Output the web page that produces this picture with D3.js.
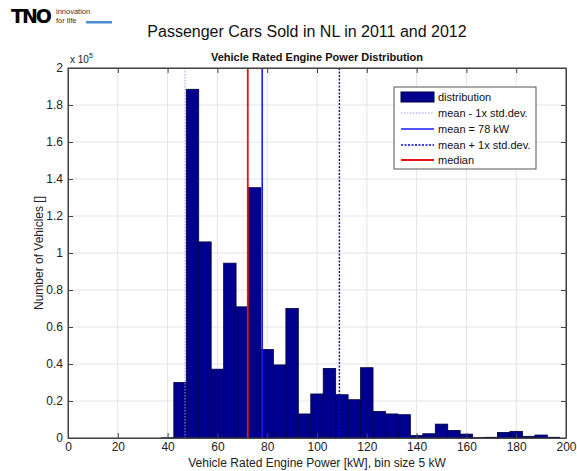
<!DOCTYPE html>
<html><head><meta charset="utf-8">
<script src="https://cdn.jsdelivr.net/npm/d3@7"></script>
<style>body{margin:0;background:#fff}svg{display:block;font-family:"Liberation Sans",Arial,sans-serif}</style>
</head><body><svg id="c" width="577" height="471"></svg>
<script>
// bin centres (kW), bin size 5 kW
const binCenters = [40,45,50,55,60,65,70,75,80,85,90,95,100,105,110,115,120,125,130,135,140,145,150,155,160,165,170,175,180,185,190,195];
// number of vehicles per bin
const counts = [100,30000,188500,106000,37200,94500,70900,135300,47800,39500,70000,13000,23800,37600,23400,20700,38000,14400,13000,12600,1300,2300,7500,4100,2100,200,400,3000,3600,900,1600,400];
const xTicks = [0,20,40,60,80,100,120,140,160,180,200];
const yTicks = [0,0.2,0.4,0.6,0.8,1,1.2,1.4,1.6,1.8,2];
const meanVal = 78, stdVal = 31, medianVal = 72.2;
const legendLabels = ["distribution","mean - 1x std.dev.","mean = 78 kW","mean + 1x std.dev.","median"];

const svg = d3.select("#c");
const L=68, R=566, T=68, B=438;
const x = d3.scaleLinear().domain([0,200]).range([L,R]);
const y = d3.scaleLinear().domain([0,200000]).range([B,T]);
const binW = 5;

// grid
const g = svg.append("g");
g.selectAll(".gx").data(xTicks).enter().append("line")
  .attr("x1",d=>x(d)).attr("x2",d=>x(d)).attr("y1",T).attr("y2",B)
  .attr("stroke","#e4e4e4").attr("stroke-width",1);
g.selectAll(".gy").data(yTicks).enter().append("line")
  .attr("x1",L).attr("x2",R).attr("y1",d=>y(d*1e5)).attr("y2",d=>y(d*1e5))
  .attr("stroke","#e4e4e4").attr("stroke-width",1);

// bars
svg.append("g").selectAll("rect").data(binCenters.map((c,i)=>({c,v:counts[i]}))).enter().append("rect")
  .attr("x",d=>x(d.c-binW/2)).attr("width",d=>x(d.c+binW/2)-x(d.c-binW/2))
  .attr("y",d=>y(d.v)).attr("height",d=>B-y(d.v))
  .attr("fill","#00008f").attr("stroke","#000040").attr("stroke-width",0.8);

// vertical lines
const vlines = [
  {v:meanVal-stdVal, c:"#9999ff", dash:"1.5,1.5", w:1},
  {v:meanVal, c:"#1a1aff", dash:null, w:1.6},
  {v:meanVal+stdVal, c:"#0000e6", dash:"2,1.5", w:1.4},
  {v:medianVal, c:"#ee1111", dash:null, w:1.8}
];
svg.append("g").selectAll("line").data(vlines).enter().append("line")
  .attr("x1",d=>x(d.v)).attr("x2",d=>x(d.v)).attr("y1",T).attr("y2",B)
  .attr("stroke",d=>d.c).attr("stroke-width",d=>d.w).attr("stroke-dasharray",d=>d.dash);

// axes box + ticks
const ax = d3.axisBottom(x).tickValues(xTicks).tickSize(-5).tickSizeOuter(0).tickPadding(4);
const axG = svg.append("g").attr("transform",`translate(0,${B})`).call(ax);
const axT = svg.append("g").attr("transform",`translate(0,${T})`).call(d3.axisTop(x).tickValues(xTicks).tickSize(-5).tickSizeOuter(0).tickFormat(""));
const ay = d3.axisLeft(y).tickValues(yTicks.map(d=>d*1e5)).tickFormat(d=>d3.format("~g")(d/1e5)).tickSize(-5).tickSizeOuter(0).tickPadding(5);
const ayG = svg.append("g").attr("transform",`translate(${L},0)`).call(ay);
const ayR = svg.append("g").attr("transform",`translate(${R},0)`).call(d3.axisRight(y).tickValues(yTicks.map(d=>d*1e5)).tickSize(-5).tickSizeOuter(0).tickFormat(""));
[axG,axT,ayG,ayR].forEach(a=>{
  a.select(".domain").attr("stroke","#444");
  a.selectAll(".tick line").attr("stroke","#444");
  a.selectAll("text").attr("font-family","Liberation Sans, Arial, sans-serif").attr("font-size",12).attr("fill","#222");
});
svg.append("rect").attr("x",L).attr("y",T).attr("width",R-L).attr("height",B-T).attr("fill","none").attr("stroke","#444");

// exponent
const ex = svg.append("text").attr("x",70).attr("y",63).attr("font-size",10).attr("fill","#222");
ex.append("tspan").text("x 10");
ex.append("tspan").attr("dy",-5).attr("font-size",7).text("5");

// labels
svg.append("text").attr("x",307).attr("y",37).attr("text-anchor","middle").attr("font-size",16).attr("fill","#111")
  .text("Passenger Cars Sold in NL in 2011 and 2012");
svg.append("text").attr("x",317).attr("y",61).attr("text-anchor","middle").attr("font-size",11).attr("font-weight","bold").attr("fill","#111")
  .text("Vehicle Rated Engine Power Distribution");
svg.append("text").attr("x",317).attr("y",467).attr("text-anchor","middle").attr("font-size",12).attr("fill","#222")
  .text("Vehicle Rated Engine Power [kW], bin size 5 kW");
svg.append("text").attr("transform","translate(43,253) rotate(-90)").attr("text-anchor","middle").attr("font-size",12).attr("fill","#222")
  .text("Number of Vehicles []");

// legend
const lg = svg.append("g");
lg.append("rect").attr("x",394).attr("y",87).attr("width",142).attr("height",82).attr("fill","#fff").attr("stroke","#555");
const rowsY = [97,113,129,145,160];
legendLabels.forEach((t,i)=>{
  const yy = rowsY[i];
  if(i===0){
    lg.append("rect").attr("x",401).attr("y",yy-5).attr("width",33).attr("height",10).attr("fill","#00008f").attr("stroke","#000040");
  } else {
    const s = vlines[i-1];
    lg.append("line").attr("x1",401).attr("x2",434).attr("y1",yy).attr("y2",yy)
      .attr("stroke",s.c).attr("stroke-width",s.w).attr("stroke-dasharray",s.dash);
  }
  lg.append("text").attr("x",438).attr("y",yy+4).attr("font-size",11).attr("fill","#111").text(t);
});

// logo
svg.append("text").attr("x",11).attr("y",23).attr("font-size",19).attr("font-weight","900").attr("font-family","DejaVu Sans, sans-serif")
  .attr("letter-spacing",-2).attr("fill","#000").text("TNO");
svg.append("text").attr("x",56).attr("y",14).attr("font-size",7.5).attr("fill","#333").text("innovation");
svg.append("text").attr("x",56).attr("y",23).attr("font-size",7.5).attr("fill","#333").text("for life");
svg.append("rect").attr("x",86).attr("y",21).attr("width",26).attr("height",2.5).attr("fill","#4a8fd0");
</script></body></html>
